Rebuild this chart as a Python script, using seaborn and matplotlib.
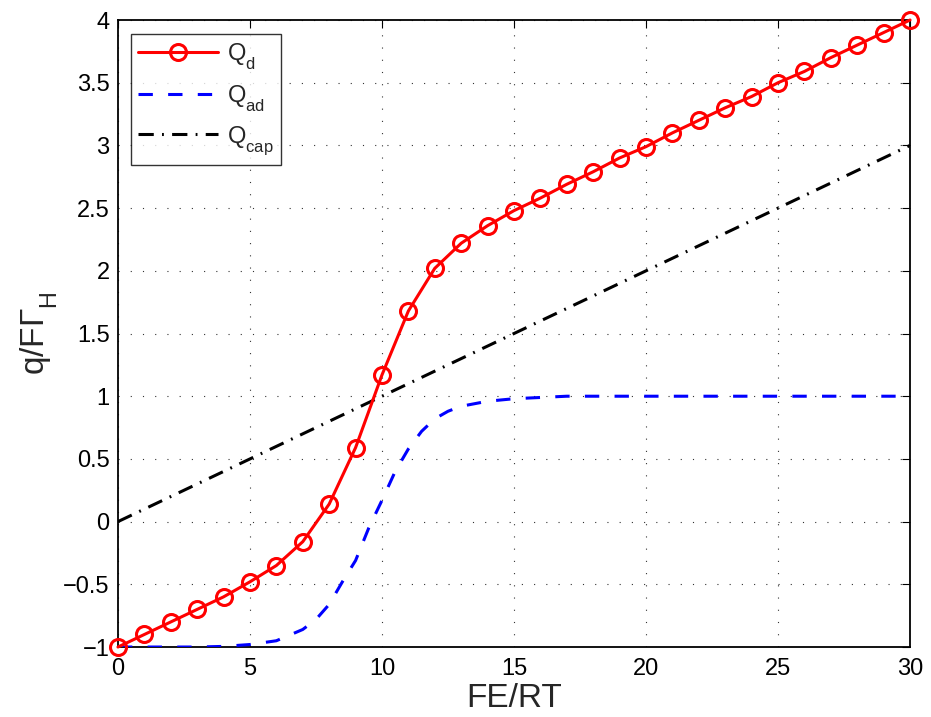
import matplotlib
matplotlib.use("Agg")
import matplotlib.pyplot as plt
import matplotlib._mathtext as mathtext_internal
import seaborn as sns
import pandas as pd

# Total charge Q_d sampled at integer potentials
x_d = list(range(0, 31))
q_d = [-1.00, -0.90, -0.80, -0.70, -0.60, -0.48, -0.35, -0.16, 0.14, 0.59,
       1.17, 1.68, 2.02, 2.22, 2.36, 2.48, 2.58, 2.69, 2.79, 2.90,
       2.99, 3.10, 3.20, 3.30, 3.39, 3.50, 3.59, 3.70, 3.80, 3.90, 4.00]

# Adsorption contribution Q_ad
x_ad = [0, 1, 2, 3, 4, 5, 6, 7, 7.5, 8, 8.5, 9, 9.5, 10, 10.5, 11, 11.5,
        12, 12.5, 13, 14, 15, 16, 17, 18, 20, 25, 30]
q_ad = [-1.00, -1.00, -1.00, -1.00, -0.995, -0.98, -0.95, -0.86, -0.78, -0.66,
        -0.48, -0.31, -0.05, 0.17, 0.40, 0.58, 0.72, 0.82, 0.88, 0.92,
        0.96, 0.98, 0.99, 1.00, 1.00, 1.00, 1.00, 1.00]

# Capacitive contribution Q_cap
x_cap = [0, 30]
q_cap = [0.0, 3.0]

x_ticks = [0, 5, 10, 15, 20, 25, 30]
y_ticks = [-1, -0.5, 0, 0.5, 1, 1.5, 2, 2.5, 3, 3.5, 4]

sns.set_style("white")
plt.rcParams["font.family"] = ["Liberation Sans", "DejaVu Sans"]
plt.rcParams["mathtext.default"] = "regular"
plt.rcParams["mathtext.fontset"] = "custom"
plt.rcParams["mathtext.rm"] = "Liberation Sans"
plt.rcParams["mathtext.it"] = "Liberation Sans"
# deeper subscripts, as in classic MATLAB text rendering
mathtext_internal.FontConstantsBase.sub1 = 0.75

fig = plt.figure(figsize=(9.31, 7.17), dpi=100)
ax = fig.add_axes([0.1267, 0.0976, 0.8508, 0.8745])

df_d = pd.DataFrame({"x": x_d, "q": q_d})
df_ad = pd.DataFrame({"x": x_ad, "q": q_ad})
df_cap = pd.DataFrame({"x": x_cap, "q": q_cap})

LW = 2.2
sns.lineplot(data=df_d, x="x", y="q", ax=ax, color="#ff0000", linewidth=LW,
             marker="o", markersize=11.5, markerfacecolor="none",
             markeredgecolor="#ff0000", markeredgewidth=2.2,
             label="$Q_{d}$", clip_on=False, zorder=5)
sns.lineplot(data=df_ad, x="x", y="q", ax=ax, color="#0000ff", linewidth=LW,
             linestyle=(0, (4.7, 5.0)), label="$Q_{ad}$", zorder=4)
sns.lineplot(data=df_cap, x="x", y="q", ax=ax, color="black", linewidth=LW,
             linestyle=(0, (5.0, 2.7, 0.6, 2.7)), label="$Q_{cap}$", zorder=3)

ax.set_xlim(0, 30)
ax.set_ylim(-1, 4)
ax.set_xticks(x_ticks)
ax.set_yticks(y_ticks)
ax.set_xticklabels([f"{v:g}" for v in x_ticks])
ax.set_yticklabels([f"{v:g}".replace("-", "\u2212") for v in y_ticks])

ax.grid(True, color="#333333", linestyle=(0, (1, 10)), linewidth=0.8)
ax.tick_params(direction="in", length=6, width=0.8, top=True, right=True,
               labelsize=17, colors="black")
ax.tick_params(axis="x", pad=8)
ax.tick_params(axis="y", pad=6)
for s in ax.spines.values():
    s.set_visible(True)
    s.set_color("black")
    s.set_linewidth(1.3)

ax.set_xlabel("FE/RT", fontsize=24, labelpad=2)
ax.set_ylabel("q/F$\\Gamma_{H}$", fontsize=24, labelpad=2)

leg = ax.legend(loc="upper left", bbox_to_anchor=(0.0165, 0.977),
                fontsize=17, handlelength=3.4, handletextpad=0.38,
                borderpad=0.3, labelspacing=0.45, frameon=True,
                fancybox=False, edgecolor="black", borderaxespad=0)
leg.get_frame().set_linewidth(1.0)

fig.savefig("out.png", dpi=100, facecolor="white")
